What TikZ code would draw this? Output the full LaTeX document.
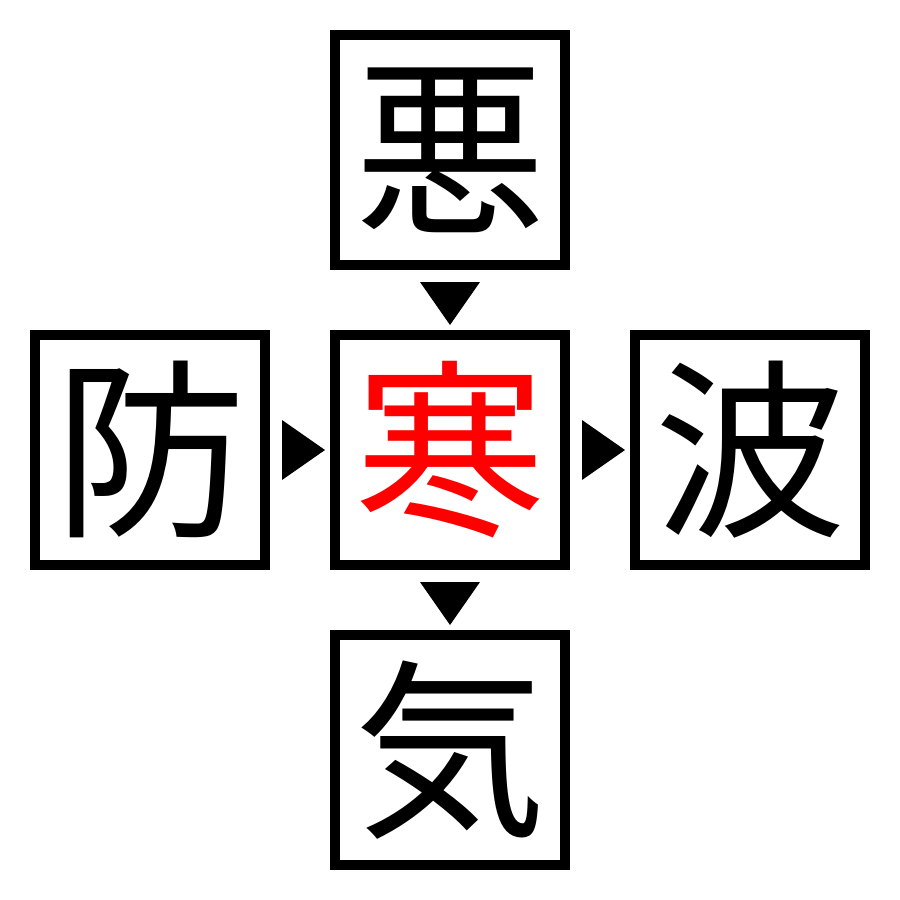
\documentclass[tikz,border=0pt]{standalone}
\usepackage{fontspec}
\newfontfamily\cjk{Noto Sans CJK JP}
\begin{document}
\begin{tikzpicture}[x=1pt,y=-1pt,
  kbox/.style={draw=black,line width=10pt,minimum size=230pt,inner sep=0pt,outer sep=0pt,
    font=\cjk\fontsize{192}{192}\selectfont},
  tri/.style={fill=black,draw=none}]
\useasboundingbox (0,0) rectangle (900,900);
\node[kbox] (top) at (450,150) {悪};
\node[kbox,text=red] (mid) at (450,450) {寒};
\node[kbox] (left) at (150,450) {防};
\node[kbox] (right) at (750,450) {波};
\node[kbox] (bot) at (450,750) {気};
\coordinate (t1) at (450,303);
\coordinate (t2) at (450,603);
\coordinate (t3) at (303,450);
\coordinate (t4) at (603,450);
\fill[tri] ([shift={(-30,-21)}]t1) -- ([shift={(30,-21)}]t1) -- ([shift={(0,22)}]t1) -- cycle;
\fill[tri] ([shift={(-30,-21)}]t2) -- ([shift={(30,-21)}]t2) -- ([shift={(0,22)}]t2) -- cycle;
\fill[tri] ([shift={(-21,-30)}]t3) -- ([shift={(-21,30)}]t3) -- ([shift={(22,0)}]t3) -- cycle;
\fill[tri] ([shift={(-21,-30)}]t4) -- ([shift={(-21,30)}]t4) -- ([shift={(22,0)}]t4) -- cycle;
\end{tikzpicture}
\end{document}
